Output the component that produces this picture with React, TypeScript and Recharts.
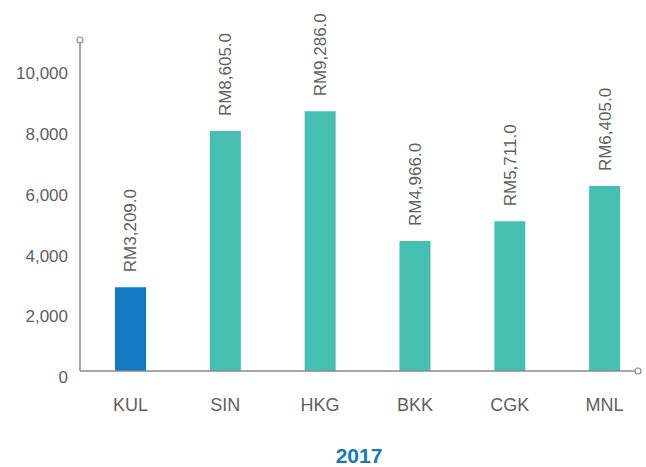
import { BarChart, Bar, XAxis, YAxis, Cell, LabelList } from 'recharts';

const CATEGORIES = ['KUL', 'SIN', 'HKG', 'BKK', 'CGK', 'MNL'];
const VALUES = [2760, 7900, 8550, 4280, 4930, 6090];
const VALUE_LABELS = ['RM3,209.0', 'RM8,605.0', 'RM9,286.0', 'RM4,966.0', 'RM5,711.0', 'RM6,405.0'];
const Y_TICKS = [0, 2000, 4000, 6000, 8000, 10000];
const YEAR = '2017';

const HOME = '#1279c2';
const OTHER = '#45bfb0';
const AXIS = '#8a8a8a';
const TEXT = '#5f5f5f';
const FONT = '"Liberation Sans", Arial, sans-serif';

const data = CATEGORIES.map((code, i) => ({ code, value: VALUES[i], label: VALUE_LABELS[i] }));

function YTick({ x, y, payload }: any) {
  return (
    <text x={x} y={y} dy={12} textAnchor="end" fill={TEXT} fontSize={17} fontFamily={FONT}>
      {payload.value.toLocaleString('en-US')}
    </text>
  );
}

function XTick({ x, y, payload }: any) {
  return (
    <text x={x} y={y} dy={32} textAnchor="middle" fill={TEXT} fontSize={18} fontFamily={FONT}>
      {payload.value}
    </text>
  );
}

function ValueLabel({ x, y, width, value }: any) {
  const cx = x + width / 2;
  const top = y - 15;
  return (
    <text
      x={cx}
      y={top}
      dy="0.35em"
      transform={`rotate(-90 ${cx} ${top})`}
      textAnchor="start"
      fill={TEXT}
      fontSize={17}
      fontFamily={FONT}
    >
      {value}
    </text>
  );
}

function YEnd({ viewBox }: any) {
  const { x, y, width } = viewBox;
  return <circle cx={x + width} cy={y} r={3} fill="#fff" stroke={AXIS} strokeWidth={1.2} />;
}

function XEnd({ viewBox }: any) {
  const { x, y, width } = viewBox;
  return (
    <g>
      <circle cx={x + width} cy={y} r={3} fill="#fff" stroke={AXIS} strokeWidth={1.2} />
      <text x={x + width / 2} y={463} textAnchor="middle" fill={HOME} fontSize={21} fontWeight="bold" fontFamily={FONT}>
        {YEAR}
      </text>
    </g>
  );
}

export default function App() {
  return (
    <div style={{ position: 'absolute', left: 0, top: 0, background: '#fff' }}>
      <BarChart width={646} height={467} data={data} margin={{ top: 40, right: 8, left: 0, bottom: 36 }}>
        <XAxis
          dataKey="code"
          height={60}
          stroke={AXIS}
          strokeWidth={1.5}
          tickLine={false}
          tick={<XTick />}
          padding={{ left: 3, right: -14 }}
          interval={0}
          label={{ content: <XEnd /> }}
        />
        <YAxis
          width={80}
          domain={[0, 10900]}
          ticks={Y_TICKS}
          stroke={AXIS}
          strokeWidth={1.5}
          tickLine={false}
          tickSize={0}
          tickMargin={12}
          tick={<YTick />}
          label={{ content: <YEnd /> }}
        />
        <Bar dataKey="value" barSize={31} isAnimationActive={false}>
          {data.map((d, i) => (
            <Cell key={d.code} fill={i === 0 ? HOME : OTHER} />
          ))}
          <LabelList dataKey="label" content={<ValueLabel />} />
        </Bar>
      </BarChart>
    </div>
  );
}
